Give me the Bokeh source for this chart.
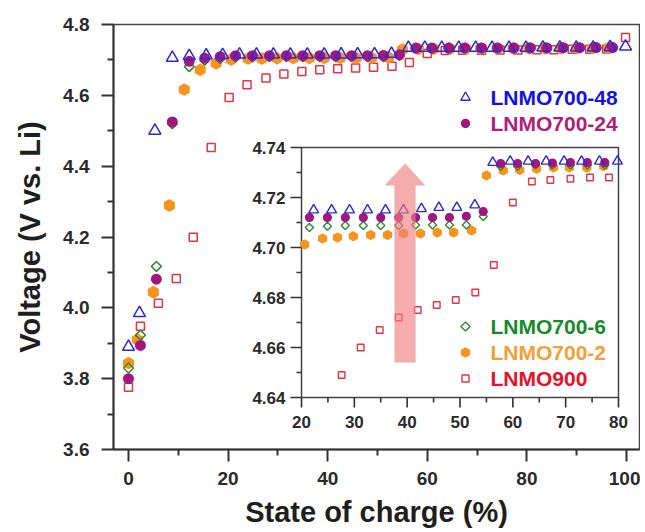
import numpy as np
from bokeh.plotting import figure
from bokeh.models import Range1d, FixedTicker, PrintfTickFormatter, Title
from bokeh.core.properties import value
from bokeh.embed import file_html
from bokeh.resources import INLINE

# ---------------- data ----------------
B_X = [0, 2.2, 5.3, 8.8, 12.2, 15.6, 18.9, 22.3, 25.7, 29.1, 32.5, 35.9, 39.3, 42.7, 46.0, 49.4, 52.8,
       56.2, 59.5, 62.9, 66.3, 69.7, 73.0, 76.4, 79.8, 83.2, 86.6, 89.9, 93.3, 96.7, 99.8]
B_Y = [3.890, 3.985, 4.500, 4.706, 4.711, 4.713, 4.714, 4.715, 4.715, 4.715, 4.715, 4.715, 4.715, 4.7155,
       4.716, 4.716, 4.717, 4.734, 4.7345, 4.7345, 4.7345, 4.7345, 4.7345, 4.7345, 4.7345, 4.735, 4.735,
       4.735, 4.735, 4.736, 4.738]

P_X = [0, 2.4, 5.6, 8.8, 12.2, 15.3, 18.4, 21.5, 24.9, 28.3, 31.7, 35.0, 38.4, 41.6, 44.8, 48.0, 51.2,
       54.4, 57.7, 60.9, 64.3, 67.5, 70.9, 74.1, 77.4, 80.7, 84.0, 87.3, 90.6, 93.9, 97.2]
P_Y = [3.800, 3.894, 4.081, 4.525, 4.696, 4.705, 4.709, 4.712, 4.712, 4.712, 4.712, 4.712, 4.712, 4.712,
       4.712, 4.712, 4.7125, 4.7144, 4.7336, 4.7336, 4.7336, 4.7338, 4.734, 4.734, 4.734, 4.734, 4.734,
       4.7345, 4.7345, 4.735, 4.735]

G_X = P_X
G_Y = [3.830, 3.923, 4.117, 4.520, 4.681, 4.699, 4.704, 4.708, 4.7085, 4.7088, 4.7088, 4.7088, 4.7088,
       4.709, 4.709, 4.709, 4.709, 4.7124, 4.7325, 4.7325, 4.733, 4.733, 4.733, 4.733, 4.733, 4.7335,
       4.7335, 4.7335, 4.734, 4.734, 4.734]

O_X = [0, 1.8, 5.0, 8.2, 11.2, 14.4, 17.6, 20.6, 24.0, 26.8, 29.8, 33.1, 36.3, 39.3, 42.5, 45.7, 48.8,
       52.2, 55.0, 58.2, 61.3, 64.5, 67.7, 70.7, 74.0, 77.2, 80.4, 83.6, 86.8, 90.0, 93.2, 96.4]
O_Y = [3.844, 3.910, 4.044, 4.289, 4.616, 4.672, 4.690, 4.7012, 4.7036, 4.704, 4.7045, 4.705, 4.705,
       4.7056, 4.7056, 4.706, 4.706, 4.7068, 4.7288, 4.7308, 4.731, 4.7315, 4.732, 4.732, 4.732, 4.7325,
       4.733, 4.733, 4.733, 4.7335, 4.7335, 4.734]

R_X = [0, 2.4, 6.0, 9.6, 13.0, 16.6, 20.2, 23.8, 27.6, 31.2, 34.8, 38.4, 42.0, 45.6, 49.2, 52.9, 56.4,
       60.0, 63.6, 67.1, 70.9, 74.6, 78.2, 82.0, 85.4, 89.1, 92.6, 96.0, 99.8]
R_Y = [3.776, 3.948, 4.013, 4.083, 4.199, 4.453, 4.594, 4.630, 4.649, 4.660, 4.667, 4.672, 4.675, 4.677,
       4.679, 4.682, 4.693, 4.718, 4.7264, 4.727, 4.7275, 4.728, 4.728, 4.729, 4.729, 4.730, 4.730, 4.731,
       4.763]

NAMES = ["LNMO700-48", "LNMO700-24", "LNMO700-6", "LNMO700-2", "LNMO900"]
X_TITLE = "State of charge (%)"
Y_TITLE = "Voltage (V vs. Li)"

X_TICKS = [0, 20, 40, 60, 80, 100]
X_MINOR = [10, 30, 50, 70, 90]
Y_TICKS = [3.6, 3.8, 4.0, 4.2, 4.4, 4.6, 4.8]
Y_MINOR = [3.7, 3.9, 4.1, 4.3, 4.5, 4.7]

INSET_X_TICKS = [20, 30, 40, 50, 60, 70, 80]
INSET_Y_TICKS = [4.64, 4.66, 4.68, 4.70, 4.72, 4.74]

# arrow in inset (data units of the inset)
ARROW_X = 39.6
ARROW_Y_BASE = 4.654
ARROW_Y_TIP = 4.7336
ARROW_SHAFT_HALF = 2.0
ARROW_HEAD_HALF = 3.85
ARROW_HEAD_LEN = 0.0088

# ---------------- style / layout ----------------
FONT = "Liberation Sans"
BLUE, PURPLE, GREEN, ORANGE, RED = "#2a2ad8", "#a2177f", "#2e8c30", "#f7941d", "#e23545"
TXT_COLORS = ["#1212e6", "#b01e7c", "#178a2c", "#f2a03a", "#e6122c"]
AXC = "#333333"

W, H = 640, 532
ML, MR, MT = 113, 1, 24
FW, FH = W - ML - MR, 425
MB = H - MT - FH

# legend layout (page pixels)
LEG_MARK_X = 465
LEG_TEXT_X = 490
LEG_ROWS_Y = [97, 123, 326, 352, 378]

p = figure(width=W, height=H, output_backend="svg", toolbar_location=None,
           x_range=Range1d(-3.01, 102.6), y_range=Range1d(3.6, 4.8),
           min_border_left=ML, min_border_right=MR, min_border_top=MT, min_border_bottom=MB)
p.xgrid.visible = False
p.ygrid.visible = False
p.outline_line_color = "#444444"
p.outline_line_width = 1.5
p.background_fill_color = "white"
p.border_fill_color = "white"

for ax, ticks, minor in ((p.xaxis[0], X_TICKS, X_MINOR), (p.yaxis[0], Y_TICKS, Y_MINOR)):
    ax.ticker = FixedTicker(ticks=ticks, minor_ticks=minor)
    ax.axis_line_color = AXC
    ax.axis_line_width = 2
    ax.major_tick_line_color = AXC
    ax.major_tick_line_width = 2
    ax.minor_tick_line_color = AXC
    ax.minor_tick_line_width = 2
    ax.major_tick_in = 0
    ax.major_tick_out = 12
    ax.minor_tick_in = 0
    ax.minor_tick_out = 6
    ax.major_label_text_font = FONT
    ax.major_label_text_font_style = "bold"
    ax.major_label_text_font_size = "19px"
    ax.major_label_text_color = "#2a2a2a"

p.yaxis.formatter = PrintfTickFormatter(format="%.1f")
p.xaxis.major_label_standoff = 10
p.yaxis.major_label_standoff = 12

title_font = dict(text_font=FONT, text_font_style="bold", text_font_size="29px", text_color="#1e1e1e")

# spacer between the x axis and its title, then the title itself
p.add_layout(Title(text=" ", standoff=13, text_font_size="1px"), "below")
p.add_layout(Title(text=X_TITLE, align="center", vertical_align="top", standoff=-15, **title_font), "below")

p.add_layout(Title(text=Y_TITLE, align="center", vertical_align="top", offset=-16, standoff=26,
                   **title_font), "left")

# inset ranges, mapped to the inset box inside the main frame
IX0, IX1 = INSET_X_TICKS[0], INSET_X_TICKS[-1]
IY0, IY1 = INSET_Y_TICKS[0], INSET_Y_TICKS[-1]
fx0, fx1 = (301 - ML) / FW, (618 - ML) / FW
fy0, fy1 = (MT + FH - 397) / FH, (MT + FH - 147) / FH
sx = (IX1 - IX0) / (fx1 - fx0)
sy = (IY1 - IY0) / (fy1 - fy0)
p.extra_x_ranges = {"ix": Range1d(IX0 - fx0 * sx, IX1 + (1 - fx1) * sx), "px": Range1d(ML, ML + FW)}
p.extra_y_ranges = {"iy": Range1d(IY0 - fy0 * sy, IY1 + (1 - fy1) * sy), "py": Range1d(MT + FH, MT)}

series = [
    # name, x, y, marker, size, color, filled, angle, legend size
    (NAMES[4], R_X, R_Y, "square", 8, RED, False, 0.0, 7),
    (NAMES[3], O_X, O_Y, "hex", 11, ORANGE, True, np.pi / 2, 9),
    (NAMES[2], G_X, G_Y, "square", 7, GREEN, False, np.pi / 4, 6.5),
    (NAMES[1], P_X, P_Y, "circle", 9.5, PURPLE, True, 0.0, 8),
    (NAMES[0], B_X, B_Y, "triangle", 12, BLUE, False, 0.0, 9.5),
]

for name, xs, ys, mk, sz, col, filled, ang, lsz in series:
    p.scatter(xs, ys, marker=mk, size=sz, angle=ang, line_color=col, line_width=1.5,
              fill_color=col if filled else None)

# ---------------- inset ----------------
p.quad(left=[IX0], right=[IX1], bottom=[IY0], top=[IY1], fill_color="white",
       line_color="#444444", line_width=1.5, x_range_name="ix", y_range_name="iy")

for name, xs, ys, mk, sz, col, filled, ang, lsz in series:
    xa, ya = np.array(xs), np.array(ys)
    m = (xa >= IX0) & (xa <= IX1) & (ya >= IY0) & (ya <= IY1)
    p.scatter(xa[m], ya[m], marker=mk, size=sz * 0.82, angle=ang, line_color=col, line_width=1.4,
              fill_color=col if filled else None, x_range_name="ix", y_range_name="iy")

# inset ticks
ixm = [(a + b) / 2 for a, b in zip(INSET_X_TICKS[:-1], INSET_X_TICKS[1:])]
iym = [(a + b) / 2 for a, b in zip(INSET_Y_TICKS[:-1], INSET_Y_TICKS[1:])]
p.ray(x=[IX0] * len(INSET_Y_TICKS), y=INSET_Y_TICKS, length=11, length_units="screen", angle=np.pi,
      line_color=AXC, line_width=1.6, x_range_name="ix", y_range_name="iy")
p.ray(x=[IX0] * len(iym), y=iym, length=5, length_units="screen", angle=np.pi,
      line_color=AXC, line_width=1.6, x_range_name="ix", y_range_name="iy")
p.ray(x=INSET_X_TICKS, y=[IY0] * len(INSET_X_TICKS), length=10, length_units="screen", angle=-np.pi / 2,
      line_color=AXC, line_width=1.6, x_range_name="ix", y_range_name="iy")
p.ray(x=ixm, y=[IY0] * len(ixm), length=5, length_units="screen", angle=-np.pi / 2,
      line_color=AXC, line_width=1.6, x_range_name="ix", y_range_name="iy")

p.text(x=[IX0] * len(INSET_Y_TICKS), y=INSET_Y_TICKS, text=["%.2f" % v for v in INSET_Y_TICKS],
       x_offset=-16, text_align="right", text_baseline="middle", text_font=value(FONT),
       text_font_style="bold", text_font_size="17px", text_color="#2a2a2a",
       x_range_name="ix", y_range_name="iy")
p.text(x=INSET_X_TICKS, y=[IY0] * len(INSET_X_TICKS), text=["%d" % v for v in INSET_X_TICKS],
       y_offset=24, text_align="center", text_baseline="middle", text_font=value(FONT),
       text_font_style="bold", text_font_size="17px", text_color="#2a2a2a",
       x_range_name="ix", y_range_name="iy")

# arrow
hb = ARROW_Y_TIP - ARROW_HEAD_LEN
ax_ = [ARROW_X - ARROW_SHAFT_HALF, ARROW_X + ARROW_SHAFT_HALF, ARROW_X + ARROW_SHAFT_HALF,
       ARROW_X + ARROW_HEAD_HALF, ARROW_X, ARROW_X - ARROW_HEAD_HALF, ARROW_X - ARROW_SHAFT_HALF]
ay_ = [ARROW_Y_BASE, ARROW_Y_BASE, hb, hb, ARROW_Y_TIP, hb, hb]
p.patch(ax_, ay_, fill_color="#ee7f7f", fill_alpha=0.65, line_color=None,
        x_range_name="ix", y_range_name="iy")

# ---------------- legends (drawn in page-pixel ranges) ----------------
legend_style = {s[0]: s for s in series}
for i, name in enumerate(NAMES):
    _, _, _, mk, sz, col, filled, ang, lsz = legend_style[name]
    yy = LEG_ROWS_Y[i]
    p.scatter([LEG_MARK_X], [yy], marker=mk, size=lsz, angle=ang, line_color=col, line_width=1.4,
              fill_color=col if filled else None, x_range_name="px", y_range_name="py")
    p.text([LEG_TEXT_X], [yy], text=[name], text_align="left", text_baseline="middle",
           text_font=value(FONT), text_font_style="bold", text_font_size="21px",
           text_color=TXT_COLORS[i], x_range_name="px", y_range_name="py")

open("out.html", "w").write(file_html(p, INLINE))
